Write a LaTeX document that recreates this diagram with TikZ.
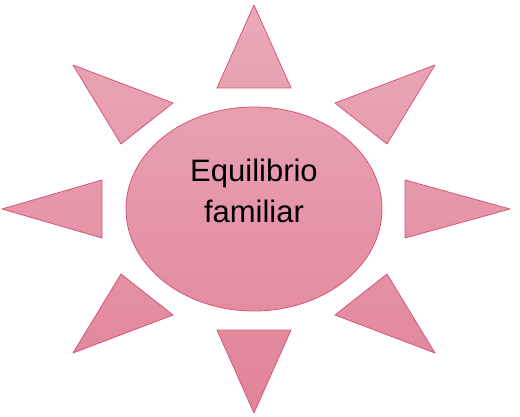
\documentclass[tikz,border=0pt]{standalone}
\usepackage{fontspec}
\setmainfont{Liberation Sans}
\definecolor{raytop}{HTML}{E9AAB8}
\definecolor{raybot}{HTML}{E18398}
\definecolor{rayline}{HTML}{D9557B}
\tikzset{every picture/.style={
  line join=round               % Sharp tips of the rays.
  }
}

\begin{document}
\begin{tikzpicture}[
    x=1pt, y=-1pt,
    sunpart/.style={
      draw=rayline,
      line width=0.8pt,
      top color=raytop,
      bottom color=raybot
    },
    label/.style={
      font=\fontsize{31}{41}\selectfont,
      align=center,
      text=black
    }]

    \useasboundingbox (0,0) rectangle (520,417);

    % Sun body and its eight rays, shaded as one shape.
    \shade[sunpart]
      (254,209) ellipse [x radius=128, y radius=102]
      (254,5) -- (291,88) -- (217,88) -- cycle            % top
      (435,65) -- (387,144) -- (335,103) -- cycle         % upper right
      (510,209) -- (405,238) -- (405,180) -- cycle        % right
      (435,353) -- (335,315) -- (387,274) -- cycle        % lower right
      (254,413) -- (217,330) -- (291,330) -- cycle        % bottom
      (73,353) -- (121,274) -- (173,315) -- cycle         % lower left
      (2,209) -- (102,180) -- (102,238) -- cycle          % left
      (73,65) -- (173,103) -- (121,144) -- cycle;         % upper left

    % Label in the middle of the sun.
    \node[label] (sun) at (254,191) {Equilibrio\\familiar};
  \end{tikzpicture}
\end{document}
